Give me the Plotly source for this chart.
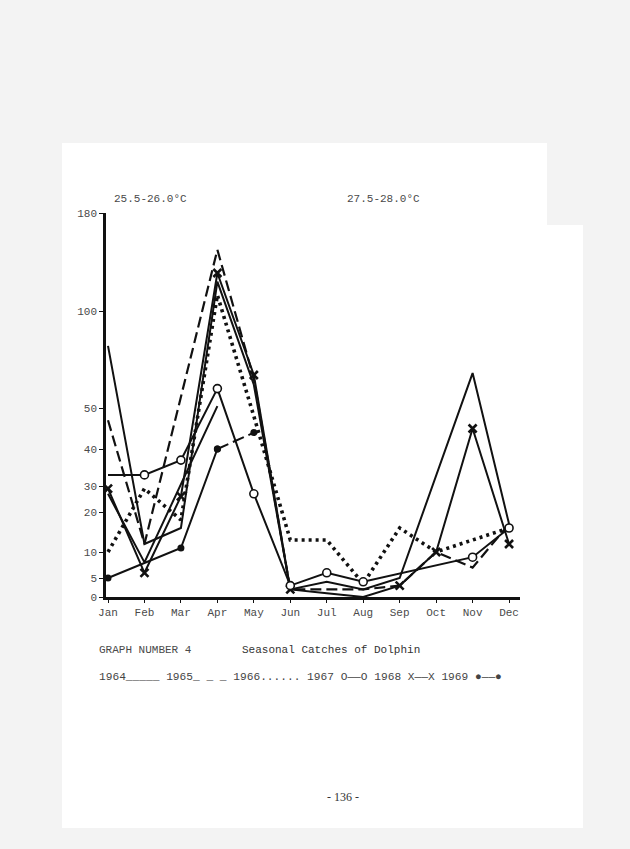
import numpy as np
import plotly.graph_objects as go

# ---------------- data (catches) ----------------
months = ["Jan", "Feb", "Mar", "Apr", "May", "Jun", "Jul", "Aug", "Sep", "Oct", "Nov", "Dec"]
y_tick_vals = [0, 5, 10, 20, 30, 40, 50, 100, 180]
# the hand-drawn vertical scale is not linear: relative heights of the ticks
y_tick_pos = [0, 19, 45, 85, 111, 148, 189, 286, 384]

c1964 = [82, 12, 16, 124, 62, 2, 4, 2, 5, None, 68, 17]
c1965 = [47, 12, None, 150, 65, 2, 2, 2, 3, 10, 7, 17]
c1966 = [10, 29, 18, 113, 48, 13, 13, 3.5, 16, 10, 13, 16]
c1967 = [33, 33, 37, 60, 27, 3, 6, 4, None, None, 9, 16]
c1968 = [29, 6, 26, 131, 67, 2, 1, 0, 3, 10, 45, 12]
c1969 = [5, None, 11, 40, 44, None, None, None, None, None, None, None]
c_extra = [27, 8, None, 51, None, None, None, None, None, None, None, None]

legend_text = "1964_____ 1965_ _ _ 1966...... 1967 O\u2014\u2014O 1968 X\u2014\u2014X 1969 \u25cf\u2014\u2014\u25cf"

# ---------------- helpers ----------------
def ymap(vals):
    return [None if v is None else float(np.interp(v, y_tick_vals, y_tick_pos)) for v in vals]

x = list(range(len(months)))
W, H = 630, 849
L, R, T, B = 106, 110, 213, 252   # plot area: x 106..520, y 213..597
pw, ph = W - L - R, H - T - B

def px(xpix):
    return (xpix - L) / pw

def py(ypix):
    return (H - B - ypix) / ph

mono = "Liberation Mono, DejaVu Sans Mono, monospace"
txt = "#4a4a4a"
ink = "#111111"

fig = go.Figure()

def add(vals, dash="solid", width=2, mode="lines", marker=None, connect=True):
    fig.add_trace(go.Scatter(
        x=x, y=ymap(vals), mode=mode, connectgaps=connect,
        line=dict(color=ink, width=width, dash=dash),
        marker=marker, showlegend=False, hoverinfo="skip", cliponaxis=False))

add(c1966, dash="3px,4px", width=3.6)
add(c1965, dash="11px,5px", width=2.2)
add(c1964, width=2)
add(c_extra, width=2)
c1969_a = [v if i <= 3 else None for i, v in enumerate(c1969)]
c1969_b = [v if i in (3, 4) else None for i, v in enumerate(c1969)]
add(c1969_b, dash="12px,5px", width=2, mode="lines+markers",
    marker=dict(symbol="circle", size=7, color=ink, opacity=1))
add(c1969_a, width=2, mode="lines+markers",
    marker=dict(symbol="circle", size=7, color=ink, opacity=1))
x_sizes = [8, 8, 8, 8, 8, 8, 0, 0, 8, 8, 8, 8]
add(c1968, width=2, mode="lines+markers",
    marker=dict(symbol="x-thin", size=x_sizes, opacity=1, line=dict(width=2.6, color=ink), color=ink))
o_sizes = [0, 8, 8, 8, 8, 8, 8, 8, 8, 8, 8, 8]
add(c1967, width=2, mode="lines+markers",
    marker=dict(symbol="circle", size=o_sizes, opacity=1, color="white", line=dict(width=1.6, color=ink)))

# paper sheets
shapes = [
    dict(type="rect", xref="paper", yref="paper", x0=px(62), x1=px(547), y0=py(828), y1=py(143),
         fillcolor="white", line=dict(width=0), layer="below"),
    dict(type="rect", xref="paper", yref="paper", x0=px(62), x1=px(583), y0=py(828), y1=py(225),
         fillcolor="white", line=dict(width=0), layer="below"),
]

ann = []
def note(xp, yp, text, size=11, color=txt, xanchor="left", family=mono):
    ann.append(dict(xref="paper", yref="paper", x=px(xp), y=py(yp), text=text, showarrow=False,
                    xanchor=xanchor, yanchor="middle", font=dict(family=family, size=size, color=color)))

note(112, 199, "25.5-26.0°C")
note(345, 199, "27.5-28.0°C")
note(97, 650, "GRAPH NUMBER 4")
note(240, 650, "Seasonal Catches of Dolphin", color="#333333")
note(97, 677, legend_text, size=11.2, color="#444444")
note(343, 797, "- 136 -", size=12, xanchor="center", family="Liberation Serif, serif", color="#333333")

fig.update_layout(
    width=W, height=H, margin=dict(l=L, r=R, t=T, b=B),
    paper_bgcolor="#f3f3f3", plot_bgcolor="rgba(0,0,0,0)",
    shapes=shapes, annotations=ann,
    xaxis=dict(range=[-0.055, 11.3], tickvals=x, ticktext=months, showgrid=False, zeroline=False,
               showline=True, linecolor=ink, linewidth=2.5, ticks="outside", ticklen=3,
               tickcolor=ink, tickfont=dict(family=mono, size=11, color=txt)),
    yaxis=dict(range=[0, 384], tickvals=y_tick_pos, ticktext=[str(v) for v in y_tick_vals],
               showgrid=False, zeroline=False, showline=True, linecolor=ink, linewidth=2.5,
               ticks="outside", ticklen=4, tickcolor=ink,
               tickfont=dict(family=mono, size=11, color=txt)),
)

fig.write_html("out.html")
